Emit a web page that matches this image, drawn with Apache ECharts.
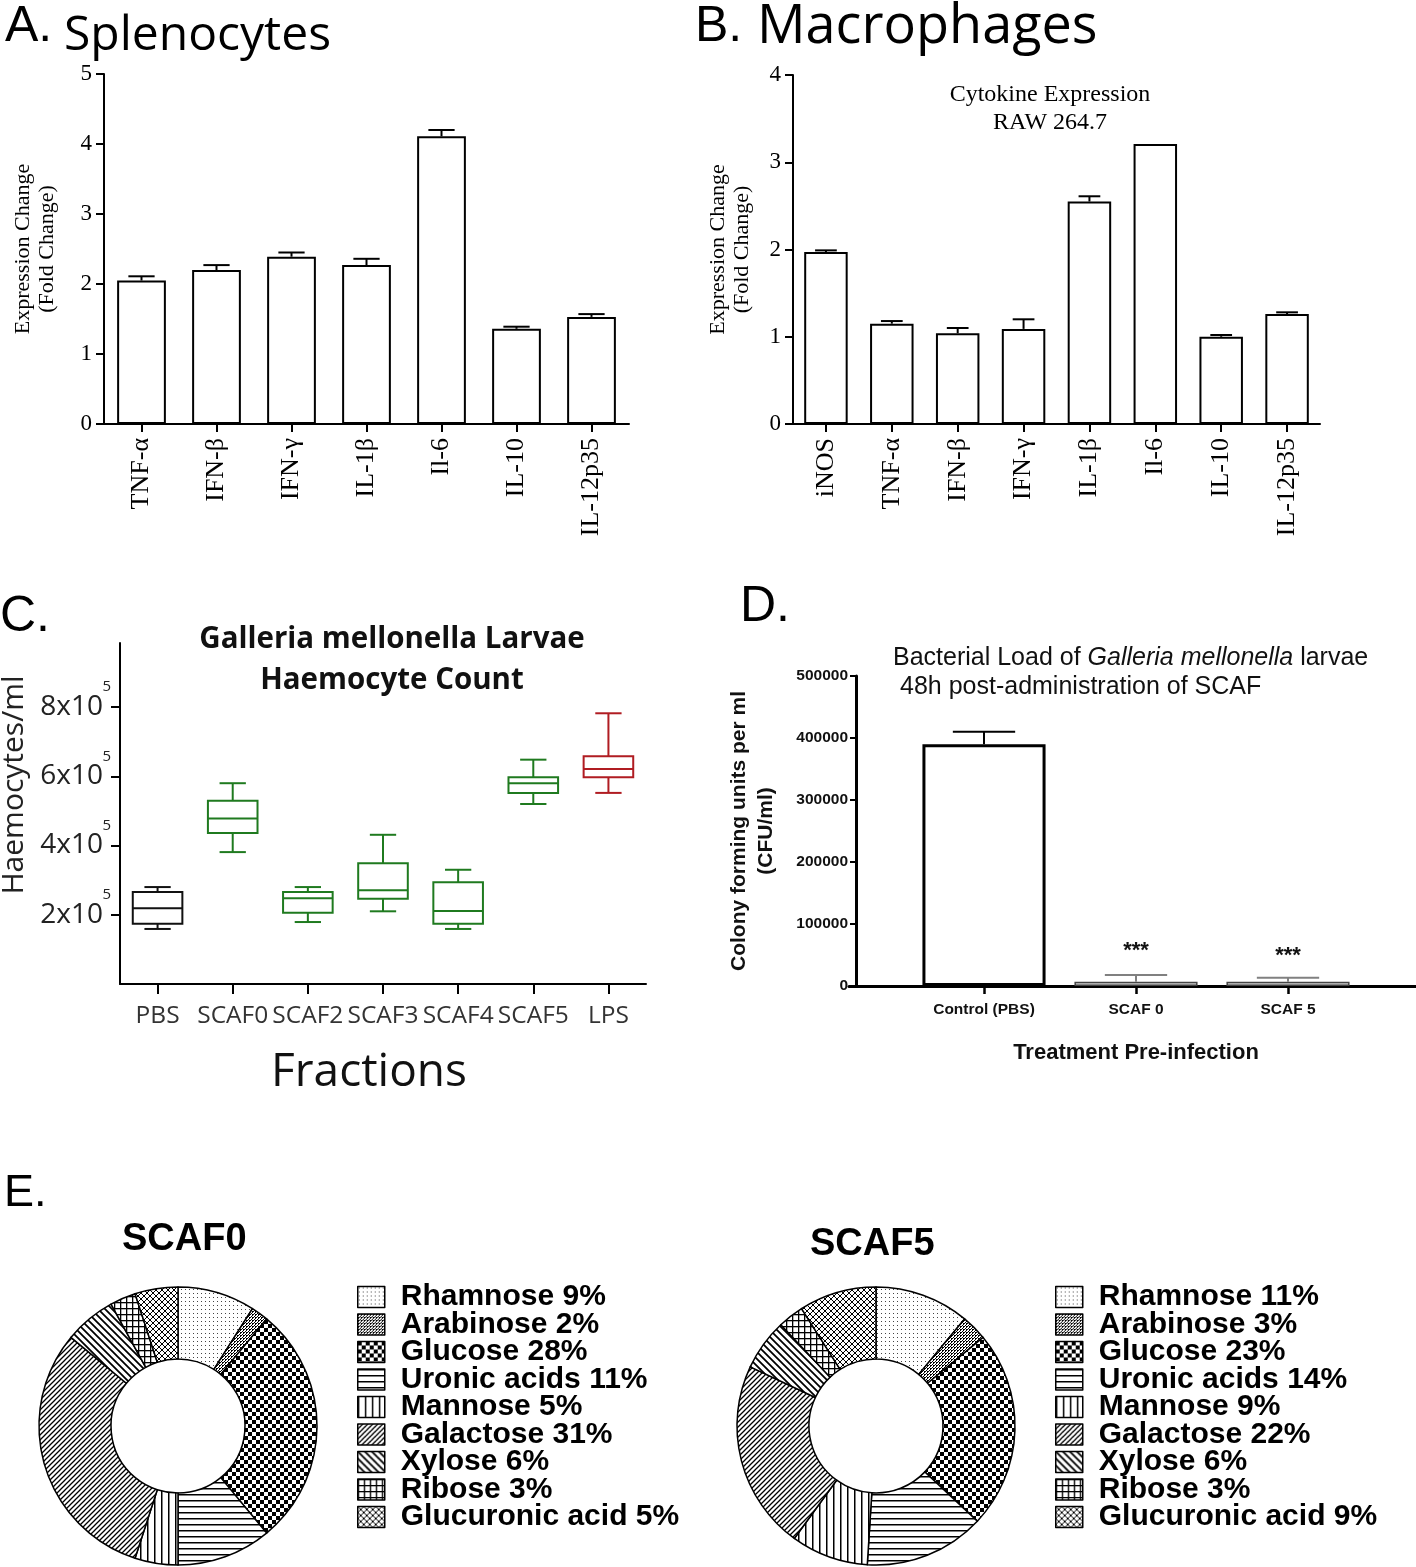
<!DOCTYPE html>
<html><head><meta charset="utf-8">
<script src="https://cdn.jsdelivr.net/npm/echarts@6/dist/echarts.min.js"></script>
<style>html,body{margin:0;padding:0;background:#fff}#c{width:1416px;height:1567px}</style>
</head><body><div id="c"></div>
<script>
// ---------- DATA ----------
const catsA = ['TNF-α','IFN-β','IFN-γ','IL-1β','Il-6','IL-10','IL-12p35'];
const valsA = [2.05,2.20,2.39,2.27,4.11,1.36,1.53];
const errsA = [0.06,0.07,0.06,0.09,0.09,0.03,0.04];

const catsB = ['iNOS','TNF-α','IFN-β','IFN-γ','IL-1β','Il-6','IL-10','IL-12p35'];
const valsB = [1.97,1.15,1.04,1.09,2.55,3.21,1.00,1.26];
const errsB = [0.02,0.03,0.06,0.11,0.06,0,0.02,0.02];

const catsC = ['PBS','SCAF0','SCAF2','SCAF3','SCAF4','SCAF5','LPS'];
const minC = [159000,381000,179000,210000,159000,520000,552000];
const q1C  = [174000,436000,206000,246000,174000,552000,597000];
const medC = [219000,478000,248000,271000,211000,580000,621000];
const q3C  = [266000,529000,266000,349000,294000,597000,658000];
const maxC = [280000,580000,280000,431000,330000,648000,782000];
const ticksC = [200000,400000,600000,800000];

const catsD = ['Control (PBS)','SCAF 0','SCAF 5'];
const valsD = [390000,7000,7000];
const errsD = [20000,10700,6400];
const sigD  = ['','***','***'];

const sugars = ['Rhamnose','Arabinose','Glucose','Uronic acids','Mannose','Galactose','Xylose','Ribose','Glucuronic acid'];
const scaf0 = [9,2,28,11,5,31,6,3,5];
const scaf5 = [11,3,23,14,9,22,6,3,9];

// ---------- STYLE ----------
const SERIF = '"Liberation Serif","Times New Roman",serif';
const SANS = '"Liberation Sans",Arial,sans-serif';
const OPEN = '"Open Sans",sans-serif';
const boxColors = ['#111','#1f7a1f','#1f7a1f','#1f7a1f','#1f7a1f','#1f7a1f','#b01c22'];
const errColD = ['#000','#808080','#808080'];
const barStyleD = [
  {color:'#fff', borderColor:'#000', borderWidth:3},
  {color:'#cfcfcf', borderColor:'#444', borderWidth:1.5},
  {color:'#cfcfcf', borderColor:'#444', borderWidth:1.5}
];
const starDist = [0,20,15];

function pat(size, draw){
  const c=document.createElement('canvas'); c.width=c.height=size;
  const g=c.getContext('2d'); g.fillStyle='#fff'; g.fillRect(0,0,size,size);
  g.fillStyle='#000'; g.strokeStyle='#000'; draw(g,size);
  return {image:c, repeat:'repeat'};
}
function diagF(g,s){g.beginPath();g.moveTo(0,s);g.lineTo(s,0);g.moveTo(-1,1);g.lineTo(1,-1);g.moveTo(s-1,s+1);g.lineTo(s+1,s-1);g.stroke();}
function diagB(g,s){g.beginPath();g.moveTo(0,0);g.lineTo(s,s);g.moveTo(-1,s-1);g.lineTo(1,s+1);g.moveTo(s-1,-1);g.lineTo(s+1,1);g.stroke();}
const patterns = [
  pat(4,(g)=>{g.fillStyle='#444';g.fillRect(1,1,1,1);}),
  pat(3,(g)=>{g.fillRect(0,0,2,2);g.fillStyle='#fff';g.fillRect(1,1,1,1);g.fillStyle='#000';g.fillRect(2,2,1,1);}),
  pat(8,(g)=>{g.fillRect(0,0,4,4);g.fillRect(4,4,4,4);}),
  pat(6,(g)=>{g.fillRect(0,0,6,1.5);}),
  pat(7,(g)=>{g.fillRect(0,0,1.5,7);}),
  pat(5,(g,s)=>{g.lineWidth=1.3;diagF(g,s);}),
  pat(7,(g,s)=>{g.lineWidth=1.8;diagB(g,s);}),
  pat(6,(g)=>{g.fillRect(0,0,6,1.3);g.fillRect(0,0,1.3,6);}),
  pat(6,(g,s)=>{g.lineWidth=1;diagF(g,s);diagB(g,s);})
];

function errorSeries(idx, cats, vals, errs, capFrac, colors, lw){
  return {type:'custom', xAxisIndex:idx, yAxisIndex:idx, silent:true, z:5,
    data: cats.map((c,i)=>[i, vals[i], errs[i]]),
    encode:{x:0,y:1},
    renderItem:(params, api)=>{
      const i=api.value(0), v=api.value(1), e=api.value(2);
      if(!e) return {type:'group', children:[]};
      const p0=api.coord([i,v]), p1=api.coord([i,v+e]);
      const hc=api.size([1,0])[0]*capFrac/2;
      const st={stroke:colors[i], lineWidth:lw};
      return {type:'group', children:[
        {type:'line', shape:{x1:p0[0],y1:p0[1],x2:p1[0],y2:p1[1]}, style:st},
        {type:'line', shape:{x1:p1[0]-hc,y1:p1[1],x2:p1[0]+hc,y2:p1[1]}, style:st}]};
    }};
}

function catAxisSerif(idx, cats){
  return {type:'category', gridIndex:idx, data:cats,
    axisLine:{show:true, lineStyle:{color:'#000',width:2}},
    axisTick:{show:true, alignWithLabel:true, length:8, lineStyle:{color:'#000',width:2}},
    axisLabel:{interval:0, rotate:90, margin:14, fontFamily:SERIF, fontSize:26, color:'#000'}};
}
function valAxisSerif(idx, max, gap){
  return {type:'value', gridIndex:idx, min:0, max:max, interval:1,
    axisLine:{show:true, lineStyle:{color:'#000',width:2}},
    axisTick:{show:true, length:8, lineStyle:{color:'#000',width:2}},
    axisLabel:{margin:12, fontFamily:SERIF, fontSize:23, color:'#000'},
    splitLine:{show:false},
    name:'Expression Change\n(Fold Change)', nameLocation:'middle', nameRotate:90, nameGap:gap,
    nameTextStyle:{fontFamily:SERIF, fontSize:22, lineHeight:24, color:'#000'}};
}
function legendFor(left, vals){
  return {data:sugars, orient:'vertical', left:left, top:1277, height:320, itemWidth:27, itemHeight:21, itemGap:-2.5,
    icon:'rect', selectedMode:false, itemStyle:{borderColor:'#000', borderWidth:1.5},
    textStyle:{fontFamily:SANS, fontWeight:'bold', fontSize:30, color:'#000', padding:[0,0,0,11]},
    formatter:(n)=>n+' '+vals[sugars.indexOf(n)]+'%'};
}

const option = {
  backgroundColor:'#fff',
  animation:false,
  grid:[
    {left:104, top:74, width:525, height:350, outerBoundsMode:'none'},
    {left:793, top:75, width:527, height:349, outerBoundsMode:'none'},
    {left:120, top:643, width:526, height:341, outerBoundsMode:'none'},
    {left:908, top:676, width:456, height:310, outerBoundsMode:'none'},
    {left:849, top:985, right:0, height:1, outerBoundsMode:'none'}
  ],
  xAxis:[
    catAxisSerif(0, catsA),
    catAxisSerif(1, catsB),
    {type:'category', gridIndex:2, data:catsC,
      axisLine:{show:true, lineStyle:{color:'#000',width:2}},
      axisTick:{show:true, alignWithLabel:true, length:10, lineStyle:{color:'#000',width:2}},
      axisLabel:{interval:0, margin:20, fontFamily:OPEN, fontSize:24.5, color:'#333'}},
    {type:'category', gridIndex:3, data:catsD,
      axisLine:{show:true, lineStyle:{color:'#000',width:3}},
      axisTick:{show:true, alignWithLabel:true, length:8, lineStyle:{color:'#000',width:2.5}},
      axisLabel:{interval:0, margin:16, fontFamily:SANS, fontWeight:'bold', fontSize:15.5, color:'#111'},
      name:'Treatment Pre-infection', nameLocation:'middle', nameGap:56,
      nameTextStyle:{fontFamily:SANS, fontWeight:'bold', fontSize:22, color:'#111'}},
    {type:'value', gridIndex:4, min:0, max:1, axisLine:{show:true, lineStyle:{color:'#000',width:3}},
      axisTick:{show:false}, axisLabel:{show:false}, splitLine:{show:false}}
  ],
  yAxis:[
    valAxisSerif(0, 5, 45),
    valAxisSerif(1, 4, 39),
    {type:'value', gridIndex:2, min:0, max:985000, interval:200000,
      axisLine:{show:true, lineStyle:{color:'#000',width:2}},
      axisTick:{show:true, length:9, customValues:ticksC, lineStyle:{color:'#000',width:2}},
      axisLabel:{margin:9, customValues:ticksC,
        formatter:(v)=>'{s|5}\n{a|'+(v/100000)+'x10}',
        rich:{a:{fontFamily:OPEN, fontSize:28, color:'#222', lineHeight:28, align:'right', padding:[0,8,0,0]},
              s:{fontFamily:OPEN, fontSize:15, color:'#222', lineHeight:12, align:'right'}},
        padding:[0,0,12,0]},
      splitLine:{show:false}},
    {type:'value', gridIndex:3, min:0, max:500000, interval:100000, offset:52,
      axisLine:{show:true, lineStyle:{color:'#000',width:3}},
      axisTick:{show:true, length:6, lineStyle:{color:'#000',width:2}},
      axisLabel:{margin:8, fontFamily:SANS, fontWeight:'bold', fontSize:15.5, color:'#111', formatter:(v)=>String(v)},
      splitLine:{show:false},
      name:'Colony forming units per ml\n(CFU/ml)', nameLocation:'middle', nameRotate:90, nameGap:76,
      nameTextStyle:{fontFamily:SANS, fontWeight:'bold', fontSize:21, lineHeight:27, color:'#111'}},
    {type:'value', gridIndex:4, show:false}
  ],
  legend:[ legendFor(352, scaf0), legendFor(1050, scaf5) ],
  series:[
    {type:'bar', xAxisIndex:0, yAxisIndex:0, data:valsA, barWidth:'65%', silent:true,
      itemStyle:{color:'#fff', borderColor:'#000', borderWidth:2}},
    errorSeries(0, catsA, valsA, errsA, 0.35, catsA.map(()=>'#000'), 2),
    {type:'bar', xAxisIndex:1, yAxisIndex:1, data:valsB, barWidth:'66%', silent:true,
      itemStyle:{color:'#fff', borderColor:'#000', borderWidth:2}},
    errorSeries(1, catsB, valsB, errsB, 0.33, catsB.map(()=>'#000'), 2),
    {type:'custom', xAxisIndex:2, yAxisIndex:2, silent:true,
      data:catsC.map((c,i)=>[i,minC[i],q1C[i],medC[i],q3C[i],maxC[i]]),
      encode:{x:0, y:[1,2,3,4,5]},
      renderItem:(params, api)=>{
        const i=api.value(0);
        const bw=api.size([1,0])[0];
        const pMin=api.coord([i,api.value(1)]), pQ1=api.coord([i,api.value(2)]),
              pMed=api.coord([i,api.value(3)]), pQ3=api.coord([i,api.value(4)]),
              pMax=api.coord([i,api.value(5)]);
        const x=pMin[0], hb=bw*0.33, hc=bw*0.175;
        const st={stroke:boxColors[i], lineWidth:2, fill:null};
        return {type:'group', children:[
          {type:'rect', shape:{x:x-hb, y:pQ3[1], width:2*hb, height:pQ1[1]-pQ3[1]}, style:{stroke:boxColors[i], lineWidth:2, fill:'none'}},
          {type:'line', shape:{x1:x-hb,y1:pMed[1],x2:x+hb,y2:pMed[1]}, style:st},
          {type:'line', shape:{x1:x,y1:pQ3[1],x2:x,y2:pMax[1]}, style:st},
          {type:'line', shape:{x1:x,y1:pQ1[1],x2:x,y2:pMin[1]}, style:st},
          {type:'line', shape:{x1:x-hc,y1:pMax[1],x2:x+hc,y2:pMax[1]}, style:st},
          {type:'line', shape:{x1:x-hc,y1:pMin[1],x2:x+hc,y2:pMin[1]}, style:st}
        ]};
      }},
    {type:'bar', xAxisIndex:3, yAxisIndex:3, barWidth:'81%', silent:true, z:2,
      data:valsD.map((v,i)=>({value:v, itemStyle:barStyleD[i],
        label:{show:!!sigD[i], formatter:sigD[i], position:'top', distance:starDist[i],
          fontFamily:SANS, fontWeight:'bold', fontSize:22, color:'#111'}}))},
    errorSeries(3, catsD, valsD, errsD, 0.41, errColD, 2),
    {type:'pie', center:[178,1426], radius:[67,139], startAngle:90, clockwise:true, silent:true,
      label:{show:false}, labelLine:{show:false}, itemStyle:{borderColor:'#000', borderWidth:1.5},
      data:sugars.map((n,i)=>({name:n, value:scaf0[i], itemStyle:{color:patterns[i]}}))},
    {type:'pie', center:[876,1426], radius:[67,139], startAngle:90, clockwise:true, silent:true,
      label:{show:false}, labelLine:{show:false}, itemStyle:{borderColor:'#000', borderWidth:1.5},
      data:sugars.map((n,i)=>({name:n, value:scaf5[i], itemStyle:{color:patterns[i]}}))}
  ],
  graphic:[
    {type:'text', x:5, y:27, style:{text:'A.', font:'50px '+SANS, fill:'#000', textVerticalAlign:'middle'}},
    {type:'text', x:64, y:36, style:{text:'Splenocytes', font:'48px '+OPEN, fill:'#000', textVerticalAlign:'middle'}},
    {type:'text', x:695, y:27, style:{text:'B.', font:'50px '+SANS, fill:'#000', textVerticalAlign:'middle'}},
    {type:'text', x:757, y:28, style:{text:'Macrophages', font:'54px '+OPEN, fill:'#000', textVerticalAlign:'middle'}},
    {type:'text', x:1050, y:95, style:{text:'Cytokine Expression', font:'24px '+SERIF, fill:'#000', textAlign:'center', textVerticalAlign:'middle'}},
    {type:'text', x:1050, y:123, style:{text:'RAW 264.7', font:'24px '+SERIF, fill:'#000', textAlign:'center', textVerticalAlign:'middle'}},
    {type:'text', x:0, y:617, style:{text:'C.', font:'50px '+SANS, fill:'#000', textVerticalAlign:'middle'}},
    {type:'text', x:392, y:640, style:{text:'Galleria mellonella Larvae', font:'bold 29.5px '+OPEN, fill:'#111', textAlign:'center', textVerticalAlign:'middle'}},
    {type:'text', x:392, y:681, style:{text:'Haemocyte Count', font:'bold 29.5px '+OPEN, fill:'#111', textAlign:'center', textVerticalAlign:'middle'}},
    {type:'text', x:14, y:785, rotation:Math.PI/2, style:{text:'Haemocytes/ml', font:'30px '+OPEN, fill:'#222', textAlign:'center', textVerticalAlign:'middle'}},
    {type:'text', x:369, y:1073, style:{text:'Fractions', font:'46px '+OPEN, fill:'#111', textAlign:'center', textVerticalAlign:'middle'}},
    {type:'text', x:740, y:607, style:{text:'D.', font:'50px '+SANS, fill:'#000', textVerticalAlign:'middle'}},
    {type:'text', x:893, y:658, style:{text:'{n|Bacterial Load of }{i|Galleria mellonella}{n| larvae}', textVerticalAlign:'middle',
      rich:{n:{fontFamily:SANS, fontSize:25, fill:'#111'}, i:{fontFamily:SANS, fontSize:25, fontStyle:'italic', fill:'#111'}}}},
    {type:'text', x:900, y:687, style:{text:'48h post-administration of SCAF', font:'25px '+SANS, fill:'#111', textVerticalAlign:'middle'}},
    {type:'text', x:4, y:1194, style:{text:'E.', font:'45px '+SANS, fill:'#000', textVerticalAlign:'middle'}},
    {type:'text', x:122, y:1240, style:{text:'SCAF0', font:'bold 38px '+SANS, fill:'#000', textVerticalAlign:'middle'}},
    {type:'text', x:810, y:1245, style:{text:'SCAF5', font:'bold 38px '+SANS, fill:'#000', textVerticalAlign:'middle'}}
  ]
};
const chart = echarts.init(document.getElementById('c'));
chart.setOption(option);
</script></body></html>
